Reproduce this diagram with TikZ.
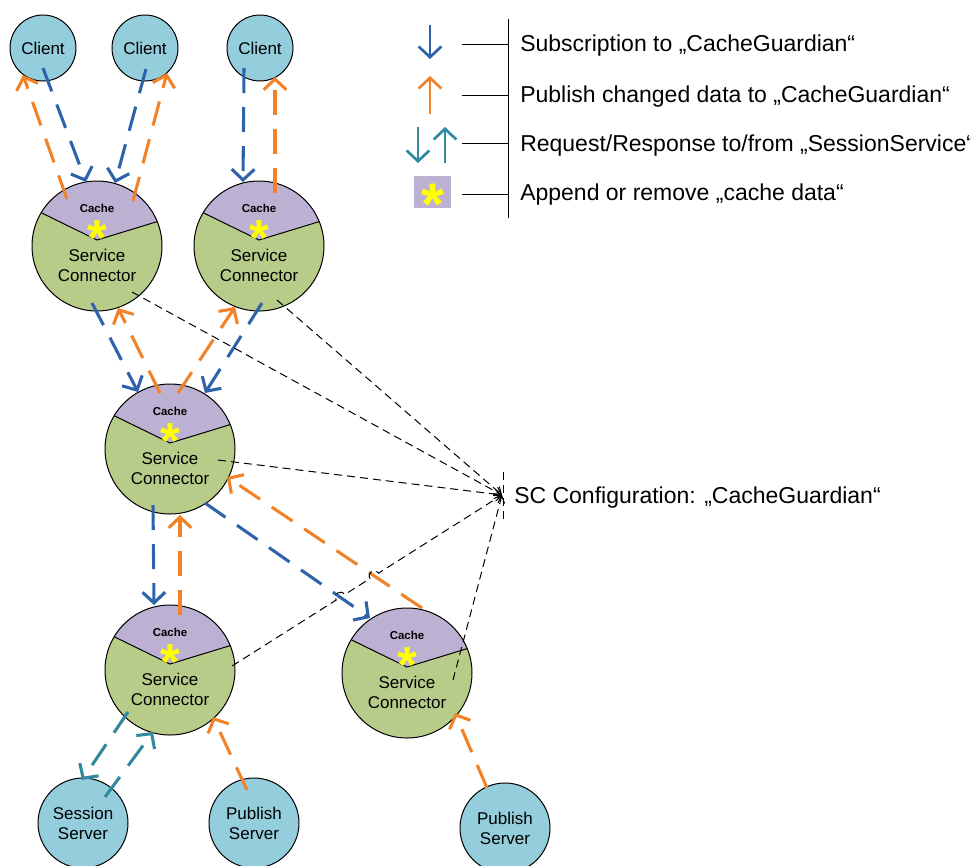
\documentclass[tikz,border=0pt]{standalone}
\usepackage{fontspec}
\setmainfont{Liberation Sans}
\usetikzlibrary{arrows.meta,calc}
\definecolor{subblue}{RGB}{46,99,172}
\definecolor{puborange}{RGB}{242,130,40}
\definecolor{reqteal}{RGB}{49,137,160}
\definecolor{clientfill}{RGB}{148,205,220}
\definecolor{scgreen}{RGB}{184,204,138}
\definecolor{cachepurple}{RGB}{189,177,211}
\definecolor{staryellow}{RGB}{255,255,0}
\newcommand\lblfont{\fontsize{12.75pt}{15pt}\selectfont}
\newcommand\legfont{\fontsize{17.25pt}{20pt}\selectfont}
\newcommand\cachefont{\fontsize{8.6pt}{10pt}\selectfont\bfseries}
\newcommand\starfont{\fontsize{38pt}{38pt}\selectfont\bfseries}
\newcommand\bigstarfont{\fontsize{44pt}{44pt}\selectfont\bfseries}
\newcommand\scnode[3]{%
  \node[scbase] (#1) at (#2,#3) {};
  \begin{scope}
    \clip (#1.center) circle[radius=65];
    \fill[scgreen] (#1.center) circle[radius=65];
    \fill[cachepurple] ($(#1.center)+(-90,-50)$) -- ($(#1.center)+(0,-6)$) -- ($(#1.center)+(90,-33.5)$) -- ($(#1.center)+(90,-90)$) -- ($(#1.center)+(-90,-90)$) -- cycle;
    \draw[line width=0.75pt] ($(#1.center)+(-90,-50)$) -- ($(#1.center)+(0,-6)$) -- ($(#1.center)+(90,-33.5)$);
  \end{scope}
  \draw[line width=0.75pt] (#1.center) circle[radius=65];
  \node[font=\cachefont] (#1-cache) at ($(#1.center)+(0,-37.5)$) {Cache};
  \node[font=\starfont, text=staryellow, anchor=base, inner sep=0pt, text depth=-12pt] (#1-star) at ($(#1.center)+(0,9)$) {*};
  \node[font=\lblfont, align=center] (#1-label) at ($(#1.center)+(0,19.5)$) {Service\\Connector};
}
\begin{document}
\begin{tikzpicture}[x=0.75pt, y=-0.75pt,
  roundnode/.style={circle, draw=black, line width=0.75pt, fill=clientfill, inner sep=0pt, align=center, font=\lblfont},
  client/.style={roundnode, minimum size=49.5pt},
  server/.style={roundnode, minimum size=67.5pt},
  scbase/.style={circle, minimum size=97.5pt, inner sep=0pt},
  flow/.style={line width=2.3pt, dash pattern=on 18.75pt off 10.5pt, -{Straight Barb[length=8pt,width=17pt]}},
  sub/.style={flow, draw=subblue},
  pub/.style={flow, draw=puborange},
  req/.style={flow, draw=reqteal},
  legarrow/.style={line width=2pt, -{Straight Barb[length=8pt,width=17pt]}},
  cfgline/.style={draw=black, line width=0.75pt, dash pattern=on 6pt off 3.75pt, -{Straight Barb[length=5pt,width=7pt]}},
  legtext/.style={font=\legfont, anchor=base west, inner sep=0pt},
  legline/.style={draw=black, line width=0.75pt}]
\fill[white] (0,0) rectangle (971,865);
\useasboundingbox (0,0) rectangle (971,865);

% clients and servers
\node[client] (c1) at (43,48) {Client};
\node[client] (c2) at (145,48) {Client};
\node[client] (c3) at (260,48) {Client};
\node[server] (ss) at (83,823) {Session\\Server};
\node[server] (ps1) at (254,823) {Publish\\Server};
\node[server] (ps2) at (505,828) {Publish\\Server};

% service connectors
\scnode{sc1}{97}{246}
\scnode{sc2}{259}{246}
\scnode{scm}{170}{449}
\scnode{scl}{170}{670}
\scnode{scr}{407}{673}

% flows
\draw[sub] ($(c1)+(0,20)$) -- ($(sc1)+(-11,-64)$);
\draw[pub] ($(sc1)+(-30,-47)$) -- ($(c1)+(-20,27)$);
\draw[sub] ($(c2)+(1,21)$) -- ($(sc1)+(18,-63)$);
\draw[pub] ($(sc1)+(36,-45)$) -- ($(c2)+(22,25)$);
\draw[sub] ($(c3)+(-16,20)$) -- ($(sc2)+(-16,-64)$);
\draw[pub] ($(sc2)+(16,-53)$) -- ($(c3)+(15,29)$);
\draw[sub] ($(sc1)+(-5,57)$) -- ($(scm)+(-32,-57)$);
\draw[pub] ($(scm)+(-10,-56)$) -- ($(sc1)+(21,62)$);
\draw[pub] ($(scm)+(8,-56)$) -- ($(sc2)+(-24,61)$);
\draw[sub] ($(sc2)+(3,57)$) -- ($(scm)+(35,-56)$);
\draw[sub] ($(scm)+(-17,56)$) -- ($(scl)+(-16,-65)$);
\draw[pub] ($(scl)+(10,-55)$) -- ($(scm)+(10,66)$);
\draw[sub] ($(scm)+(35,54)$) -- ($(scr)+(-37,-55)$);
\draw[pub] ($(scr)+(15,-65)$) -- ($(scm)+(57,28)$);
\draw[req] ($(scl)+(-42,42)$) -- ($(ss)+(-1,-43)$);
\draw[req] ($(ss)+(22,-26)$) -- ($(scl)+(-17,62)$);
\draw[pub] ($(ps1)+(-7,-33)$) -- ($(scl)+(43,47)$);
\draw[pub] ($(ps2)+(-18,-40)$) -- ($(scr)+(48,40)$);

% configuration lines
\coordinate (cfg) at (502,495);
\draw[cfgline] ($(sc1)+(35,46)$) -- (cfg);
\draw[cfgline] ($(sc2)+(18,54)$) -- (cfg);
\draw[cfgline] ($(scm)+(48,11)$) -- (cfg);
\draw[cfgline] ($(scr)+(46,7)$) -- (cfg);
\coordinate (j1a) at (336.2,600.0);
\coordinate (j1b) at (344.6,594.6);
\coordinate (j2a) at (370.0,578.6);
\coordinate (j2b) at (378.4,573.2);
\draw[cfgline] ($(scl)+(62,-4)$) -- (j1a) .. controls (332.6,594.3) and (341.0,588.9) .. (j1b)
  -- (j2a) .. controls (366.4,572.9) and (374.8,567.5) .. (j2b) -- (cfg);
\draw[draw=black, line width=0.75pt, dash pattern=on 6pt off 3.75pt] ($(cfg)+(1,-23)$) -- ($(cfg)+(1,27)$);
\node[legtext] (cfglabel) at (514,503) {SC Configuration: „CacheGuardian“};

% legend
\draw[legline] (508,19) -- (508,218);
\foreach \yy in {44,95,143,194} \draw[legline] (462,\yy) -- (508,\yy);
\draw[legarrow, draw=subblue] (430,25) -- (430,59);
\draw[legarrow, draw=puborange] (430,114) -- (430,76);
\draw[legarrow, draw=reqteal] (418,127) -- (418,163);
\draw[legarrow, draw=reqteal] (445,163) -- (445,127);
\fill[cachepurple] (414,176) rectangle (451,208);
\node[font=\bigstarfont, text=staryellow, anchor=base, inner sep=0pt, text depth=-14pt] (legstar) at (433,224) {*};
\node[legtext] (leg1) at (520,51) {Subscription to „CacheGuardian“};
\node[legtext] (leg2) at (520,102) {Publish changed data to „CacheGuardian“};
\node[legtext] (leg3) at (520,151) {Request/Response to/from „SessionService“};
\node[legtext] (leg4) at (520,200) {Append or remove „cache data“};
\end{tikzpicture}
\end{document}
